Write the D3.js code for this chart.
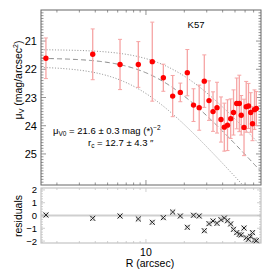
<!DOCTYPE html>
<html>
<head>
<meta charset="utf-8">
<script src="https://cdn.jsdelivr.net/npm/d3@7"></script>
<style>
body { margin: 0; background: #fff; }
text { font-family: "Liberation Sans", Arial, sans-serif; fill: #000; }
</style>
</head>
<body>
<svg width="270" height="270"></svg>
<script>
// surface brightness profile, K57
var radius = [1.64, 3.82, 6.26, 8.71, 11.21, 13.69, 16.21, 18.61, 21.12, 23.62,
  26.18, 28.71, 31.26, 33.61, 36.12, 38.82, 41.21, 43.66, 46.26, 48.67,
  51.57, 54.05, 55.95, 58.86, 61.24, 63.83, 66.41, 68.62, 71.14, 73.49]
var mu = [21.61, 21.47, 21.83, 21.83, 21.73, 22.30, 22.95, 22.82, 22.12, 23.27,
  23.36, 22.42, 23.11, 23.50, 23.36, 23.78, 24.05, 23.98, 23.75, 23.53,
  23.21, 23.21, 23.63, 24.06, 23.33, 23.30, 23.53, 23.93, 23.43, 23.39]
var muErr = [0.72, 0.90, 0.89, 0.81, 1.40, 0.48, 0.73, 0.33, 0.82, 0.58,
  0.80, 0.93, 0.70, 0.70, 0.90, 0.80, 0.85, 0.90, 0.70, 0.80,
  0.90, 1.00, 0.70, 1.00, 0.90, 0.80, 0.70, 0.60, 0.70, 0.60]
var residuals = [0.04, -0.22, -0.04, -0.27, -0.53, -0.17, 0.27, -0.04, -0.92, 0.02,
  -0.04, -1.19, -0.64, -0.43, -0.61, -0.33, -0.20, -0.41, -0.66, -1.08,
  -1.34, -1.47, -1.52, -0.98, -1.74, -1.86, -1.63, -1.34, -1.92, -1.97]

// fit: [value, error]
var muFit = [21.6, 0.3]
var rcFit = [12.7, 4.3]

var muTicks = [21, 22, 23, 24, 25]
var resTicks = [-2, -1, 0, 1, 2]
var resTickLabels = ['\u22122', '\u22121', '0', '1', '2']
var rMinor = [2, 3, 4, 5, 6, 7, 8, 9, 20, 30, 40, 50, 60, 70]
var rMajor = [10]

var svg = d3.select('svg')

var x = d3.scaleLog().domain([1.5, 80]).range([41, 261])
var y = d3.scaleLinear().domain([19.9, 26.1]).range([10, 185])
var yr = d3.scaleLinear().domain([-2.15, 2.15]).range([243, 188])

function king(r, m0, rc) {
  return m0 + 2.5 * Math.log10(1 + (r / rc) * (r / rc))
}

// ---------- main panel ----------
var main = svg.append('g')
var frameCol = '#666'

// minor y ticks every 0.1
var muMinor = d3.range(200, 261).map(function(d){ return d / 10 })
  .filter(function(d){ return d > 19.9 && d < 26.1 })

main.selectAll('.ymin').data(muMinor).enter().append('line')
  .attr('x1', 41).attr('x2', function(d){ return muTicks.indexOf(d) >= 0 ? 46 : 43.5 })
  .attr('y1', function(d){ return y(d) }).attr('y2', function(d){ return y(d) })
  .attr('stroke', frameCol).attr('stroke-width', 0.7)
main.selectAll('.ymin2').data(muMinor).enter().append('line')
  .attr('x1', 261).attr('x2', function(d){ return muTicks.indexOf(d) >= 0 ? 256 : 258.5 })
  .attr('y1', function(d){ return y(d) }).attr('y2', function(d){ return y(d) })
  .attr('stroke', frameCol).attr('stroke-width', 0.7)

var rTicks = rMinor.concat(rMajor)
main.selectAll('.xt').data(rTicks).enter().append('line')
  .attr('x1', function(d){ return x(d) }).attr('x2', function(d){ return x(d) })
  .attr('y1', 10).attr('y2', function(d){ return rMajor.indexOf(d) >= 0 ? 15 : 12.5 })
  .attr('stroke', frameCol).attr('stroke-width', 0.7)
main.selectAll('.xb').data(rTicks).enter().append('line')
  .attr('x1', function(d){ return x(d) }).attr('x2', function(d){ return x(d) })
  .attr('y1', 185).attr('y2', function(d){ return rMajor.indexOf(d) >= 0 ? 180 : 182.5 })
  .attr('stroke', frameCol).attr('stroke-width', 0.7)

main.append('rect').attr('x', 41).attr('y', 10).attr('width', 220).attr('height', 175)
  .attr('fill', 'none').attr('stroke', frameCol).attr('stroke-width', 1)

main.selectAll('.ylab').data(muTicks).enter().append('text')
  .attr('x', 37).attr('y', function(d){ return y(d) + 4 })
  .attr('text-anchor', 'end').attr('font-size', 11)
  .text(function(d){ return d })

// model curves
var clip = svg.append('defs').append('clipPath').attr('id', 'cp')
clip.append('rect').attr('x', 41).attr('y', 10).attr('width', 220).attr('height', 175)

var rs = d3.range(0, 201).map(function(i){ return 1.5 * Math.pow(80 / 1.5, i / 200) })
var line = d3.line().x(function(d){ return x(d[0]) }).y(function(d){ return y(d[1]) })
var curves = [
  { m0: muFit[0], rc: rcFit[0], dash: '5,3' },
  { m0: muFit[0] - muFit[1], rc: rcFit[0] + rcFit[1], dash: '1,1.8' },
  { m0: muFit[0] + muFit[1], rc: rcFit[0] - rcFit[1], dash: '1,1.8' }
]
main.append('g').attr('clip-path', 'url(#cp)')
  .selectAll('path').data(curves).enter().append('path')
  .attr('d', function(c){ return line(rs.map(function(r){ return [r, king(r, c.m0, c.rc)] })) })
  .attr('fill', 'none').attr('stroke', '#8a8a8a').attr('stroke-width', 1)
  .attr('stroke-dasharray', function(c){ return c.dash })

// error bars
var eb = main.append('g').attr('clip-path', 'url(#cp)')
radius.forEach(function(r, i){
  var cx = x(r), top = y(mu[i] - muErr[i]), bot = y(mu[i] + muErr[i])
  eb.append('line').attr('x1', cx).attr('x2', cx).attr('y1', top).attr('y2', bot)
    .attr('stroke', '#f6a4a4').attr('stroke-width', 1.3)
  eb.append('line').attr('x1', cx - 2).attr('x2', cx + 2).attr('y1', top).attr('y2', top)
    .attr('stroke', '#f6a4a4').attr('stroke-width', 1)
  eb.append('line').attr('x1', cx - 2).attr('x2', cx + 2).attr('y1', bot).attr('y2', bot)
    .attr('stroke', '#f6a4a4').attr('stroke-width', 1)
})

main.selectAll('.pt').data(radius).enter().append('circle')
  .attr('cx', function(d){ return x(d) })
  .attr('cy', function(d, i){ return y(mu[i]) })
  .attr('r', 2.7).attr('fill', '#ff0000')

main.append('text').attr('x', 196).attr('y', 28).attr('text-anchor', 'middle')
  .attr('font-size', 9.5).text('K57')

var t1 = main.append('text').attr('x', 53).attr('y', 134).attr('font-size', 9.5)
t1.append('tspan').text('\u03bc')
t1.append('tspan').attr('font-size', 6.5).attr('dy', 2).text('V0')
t1.append('tspan').attr('dy', -2).text(' = 21.6 \u00b1 0.3 mag (*)')
t1.append('tspan').attr('font-size', 6.5).attr('dy', -4).text('\u22122')

var t2 = main.append('text').attr('x', 88).attr('y', 146).attr('font-size', 9.5)
t2.append('tspan').text('r')
t2.append('tspan').attr('font-size', 6.5).attr('dy', 2).text('c')
t2.append('tspan').attr('dy', -2).text(' = 12.7 \u00b1 4.3 \u2033')

var yl = svg.append('text').attr('transform', 'translate(22,80) rotate(-90)')
  .attr('text-anchor', 'middle').attr('font-size', 10.5)
yl.append('tspan').text('\u03bc')
yl.append('tspan').attr('font-size', 7).attr('dy', 2).text('V')
yl.append('tspan').attr('dy', -2).text(' (mag/arcsec')
yl.append('tspan').attr('font-size', 7).attr('dy', -4).text('2')
yl.append('tspan').attr('dy', 4).text(')')

// ---------- residual panel ----------
var res = svg.append('g')
var resCol = '#c4c4c4'

res.append('line').attr('x1', 41).attr('x2', 261).attr('y1', yr(0)).attr('y2', yr(0))
  .attr('stroke', '#cfcfcf').attr('stroke-width', 2)

var resMinor = d3.range(-21, 22, 2).map(function(d){ return d / 10 })
res.selectAll('.rl').data(resMinor.concat(resTicks)).enter().append('line')
  .attr('x1', 41).attr('x2', function(d){ return resTicks.indexOf(d) >= 0 ? 45 : 43 })
  .attr('y1', function(d){ return yr(d) }).attr('y2', function(d){ return yr(d) })
  .attr('stroke', resCol).attr('stroke-width', 0.8)
res.selectAll('.rr').data(resMinor.concat(resTicks)).enter().append('line')
  .attr('x1', 261).attr('x2', function(d){ return resTicks.indexOf(d) >= 0 ? 257 : 259 })
  .attr('y1', function(d){ return yr(d) }).attr('y2', function(d){ return yr(d) })
  .attr('stroke', resCol).attr('stroke-width', 0.8)
res.selectAll('.rt').data(rTicks).enter().append('line')
  .attr('x1', function(d){ return x(d) }).attr('x2', function(d){ return x(d) })
  .attr('y1', 188).attr('y2', function(d){ return rMajor.indexOf(d) >= 0 ? 192 : 190 })
  .attr('stroke', resCol).attr('stroke-width', 0.8)
res.selectAll('.rb').data(rTicks).enter().append('line')
  .attr('x1', function(d){ return x(d) }).attr('x2', function(d){ return x(d) })
  .attr('y1', 243).attr('y2', function(d){ return rMajor.indexOf(d) >= 0 ? 239 : 241 })
  .attr('stroke', resCol).attr('stroke-width', 0.8)

res.append('rect').attr('x', 41).attr('y', 188).attr('width', 220).attr('height', 55)
  .attr('fill', 'none').attr('stroke', resCol).attr('stroke-width', 1.2)

res.selectAll('.rlab').data(resTicks).enter().append('text')
  .attr('x', 37).attr('y', function(d){ return yr(d) + 3.5 })
  .attr('text-anchor', 'end').attr('font-size', 9.5)
  .text(function(d, i){ return resTickLabels[i] })

// asterisk-like markers: a light box with a dark cross
var rp = res.selectAll('.rp').data(radius).enter().append('g')
  .attr('transform', function(d, i){ return 'translate(' + x(d) + ',' + yr(residuals[i]) + ')' })
rp.append('rect').attr('x', -2).attr('y', -2).attr('width', 4).attr('height', 4)
  .attr('fill', 'none').attr('stroke', '#c8c8c8').attr('stroke-width', 0.8)
rp.append('path').attr('d', d3.symbol().type(d3.symbolTimes).size(18))
  .attr('fill', 'none').attr('stroke', '#222').attr('stroke-width', 1)

svg.append('text').attr('transform', 'translate(22,216) rotate(-90)')
  .attr('text-anchor', 'middle').attr('font-size', 10.5).text('residuals')

svg.selectAll('.xlab').data(rMajor).enter().append('text')
  .attr('x', function(d){ return x(d) }).attr('y', 256)
  .attr('text-anchor', 'middle').attr('font-size', 10.5)
  .text(function(d){ return d })

svg.append('text').attr('x', 150).attr('y', 267).attr('text-anchor', 'middle')
  .attr('font-size', 10.5).text('R (arcsec)')
</script>
</body>
</html>
